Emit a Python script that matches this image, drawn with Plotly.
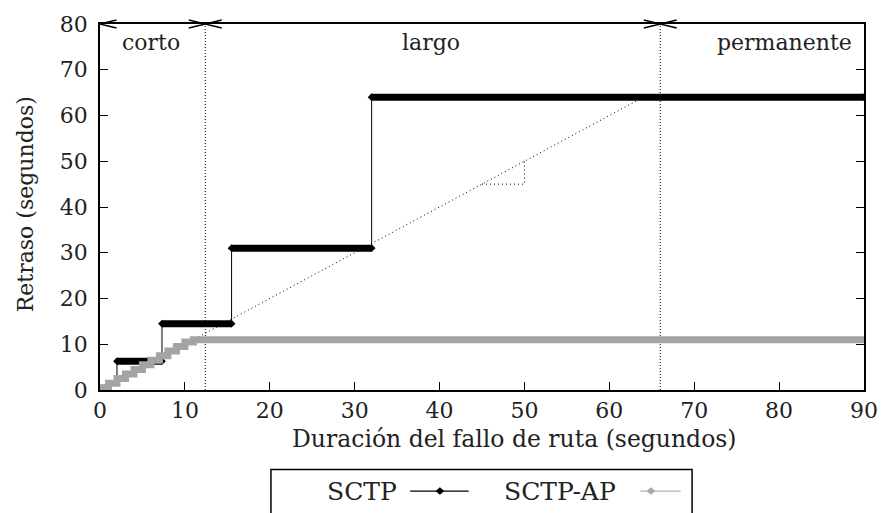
import plotly.graph_objects as go

# ---------------- data ----------------
sctp_dur = [0.0, 2.0, 7.3, 15.5, 32.0, 90.0]          # failure duration where delay level starts
sctp_delay = [1.0, 6.3, 14.5, 31.0, 64.0, 64.0]       # delay level (s)

ap_dur = [0, 1, 2, 3, 4, 5, 6, 7, 8, 9, 10, 11, 90]
ap_delay = [0.5, 1.5, 2.5, 3.5, 4.5, 5.5, 6.5, 7.5, 8.5, 9.5, 10.5, 11.0, 11.0]

region_bounds = [12.4, 66.0]
region_labels = ["corto", "largo", "permanente"]
region_label_x = [6.0, 39.0, 80.6]
region_label_y = 76.0

diag_x = [0, 64]
diag_y = [0, 64]
slope_x = [45, 50, 50]
slope_y = [45, 45, 50]

x_ticks = [0, 10, 20, 30, 40, 50, 60, 70, 80, 90]
y_ticks = [0, 10, 20, 30, 40, 50, 60, 70, 80]

FONT = "DejaVu Serif"
TXT = "#222222"
GRAY = "#a4a4a4"

X_MAX = x_ticks[-1]

fig = go.Figure()

# reference diagonal and slope triangle
fig.add_trace(go.Scatter(x=diag_x, y=diag_y, mode="lines",
                         line=dict(color="black", width=1, dash="1px,3px"),
                         showlegend=False, hoverinfo="skip"))
fig.add_trace(go.Scatter(x=slope_x, y=slope_y, mode="lines",
                         line=dict(color="black", width=1, dash="1px,3px"),
                         showlegend=False, hoverinfo="skip"))
# region boundaries
for b in region_bounds:
    fig.add_trace(go.Scatter(x=[b, b], y=[y_ticks[0], y_ticks[-1]], mode="lines",
                             line=dict(color="black", width=1, dash="1px,2px"),
                             showlegend=False, hoverinfo="skip"))

# SCTP thin step line
fig.add_trace(go.Scatter(x=sctp_dur, y=sctp_delay, mode="lines", line_shape="hv",
                         line=dict(color="black", width=1), showlegend=False))
# SCTP thick plateaus (dense markers)
bx, by = [], []
for i in range(1, len(sctp_dur) - 1):
    bx += [sctp_dur[i], sctp_dur[i + 1], None]
    by += [sctp_delay[i], sctp_delay[i], None]
fig.add_trace(go.Scatter(x=bx, y=by, mode="lines+markers",
                         line=dict(color="black", width=7),
                         marker=dict(symbol="diamond", size=6, color="black"),
                         showlegend=False))
# SCTP-AP
fig.add_trace(go.Scatter(x=ap_dur, y=ap_delay, mode="lines", line_shape="hv",
                         line=dict(color=GRAY, width=7), showlegend=False))

# region labels
for lx, lt in zip(region_label_x, region_labels):
    fig.add_annotation(x=lx, y=region_label_y, text=lt, showarrow=False,
                       xanchor="center", yanchor="middle",
                       font=dict(family=FONT, size=22, color=TXT))

shapes = []
# arrow heads on the top border (pixel-sized, paper refs so they are not clipped)
def head(xa, direction):
    for dy in (4, -4):
        shapes.append(dict(type="line", xref="paper", yref="paper",
                           xsizemode="pixel", ysizemode="pixel",
                           xanchor=xa / X_MAX, yanchor=1.0,
                           x0=0, y0=0, x1=-direction * 16.5, y1=dy,
                           line=dict(color="black", width=1.3)))
head(x_ticks[0], -1)
for b in region_bounds:
    head(b, 1)
    head(b, -1)

# manual legend (text before symbol, as in reference)
def px2x(px):
    return (px - 100) / 771
def py2y(py):
    return (390 - py) / 373

shapes.append(dict(type="rect", xref="paper", yref="paper",
                   x0=px2x(272.5), x1=px2x(697.5), y0=py2y(471), y1=py2y(530),
                   line=dict(color="black", width=1.5), fillcolor="rgba(0,0,0,0)"))
leg_y = py2y(493)
shapes.append(dict(type="line", xref="paper", yref="paper",
                   x0=px2x(413), x1=px2x(472), y0=leg_y, y1=leg_y,
                   line=dict(color="black", width=1.2)))
shapes.append(dict(type="line", xref="paper", yref="paper",
                   x0=px2x(645), x1=px2x(686), y0=leg_y, y1=leg_y,
                   line=dict(color="#b4b4b4", width=1.2)))
for cx, col in ((443, "black"), (656, "#a8a8a8")):
    shapes.append(dict(type="path", xref="paper", yref="paper",
                       xsizemode="pixel", ysizemode="pixel",
                       xanchor=px2x(cx), yanchor=leg_y,
                       path="M-4,0 L0,3.5 L4,0 L0,-3.5 Z",
                       fillcolor=col, line=dict(color=col, width=0.5)))
fig.add_annotation(xref="paper", yref="paper", x=px2x(364), y=leg_y, text="SCTP",
                   showarrow=False, xanchor="center", yanchor="middle",
                   font=dict(family=FONT, size=25, color=TXT))
fig.add_annotation(xref="paper", yref="paper", x=px2x(564), y=leg_y, text="SCTP-AP",
                   showarrow=False, xanchor="center", yanchor="middle",
                   font=dict(family=FONT, size=25, color=TXT))

# axis titles
fig.add_annotation(xref="paper", yref="paper", x=px2x(518), y=py2y(440),
                   text="Duración del fallo de ruta (segundos)", showarrow=False,
                   xanchor="center", yanchor="middle",
                   font=dict(family=FONT, size=23.5, color=TXT))
fig.add_annotation(xref="paper", yref="paper", x=px2x(25), y=py2y(201),
                   text="Retraso (segundos)", showarrow=False, textangle=-90,
                   xanchor="center", yanchor="middle",
                   font=dict(family=FONT, size=22, color=TXT))

fig.update_layout(
    width=890, height=513,
    margin=dict(l=100, r=19, t=17, b=123),
    paper_bgcolor="white", plot_bgcolor="white",
    shapes=shapes,
    font=dict(family=FONT, size=22, color=TXT),
    showlegend=False,
)
fig.update_xaxes(range=[0, X_MAX], tickvals=x_ticks, ticks="inside", ticklen=8,
                 tickwidth=1.2, tickcolor="black", showline=True, linecolor="black",
                 linewidth=1.5, mirror=True, showgrid=False, zeroline=False,
                 tickfont=dict(family=FONT, size=22, color=TXT))
fig.update_yaxes(range=[0, y_ticks[-1]], tickvals=y_ticks, ticks="inside", ticklen=8,
                 tickwidth=1.2, tickcolor="black", showline=True, linecolor="black",
                 linewidth=1.5, mirror="ticks", showgrid=False, zeroline=False,
                 ticklabelstandoff=6,
                 tickfont=dict(family=FONT, size=22, color=TXT))

fig.write_html("out.html")
